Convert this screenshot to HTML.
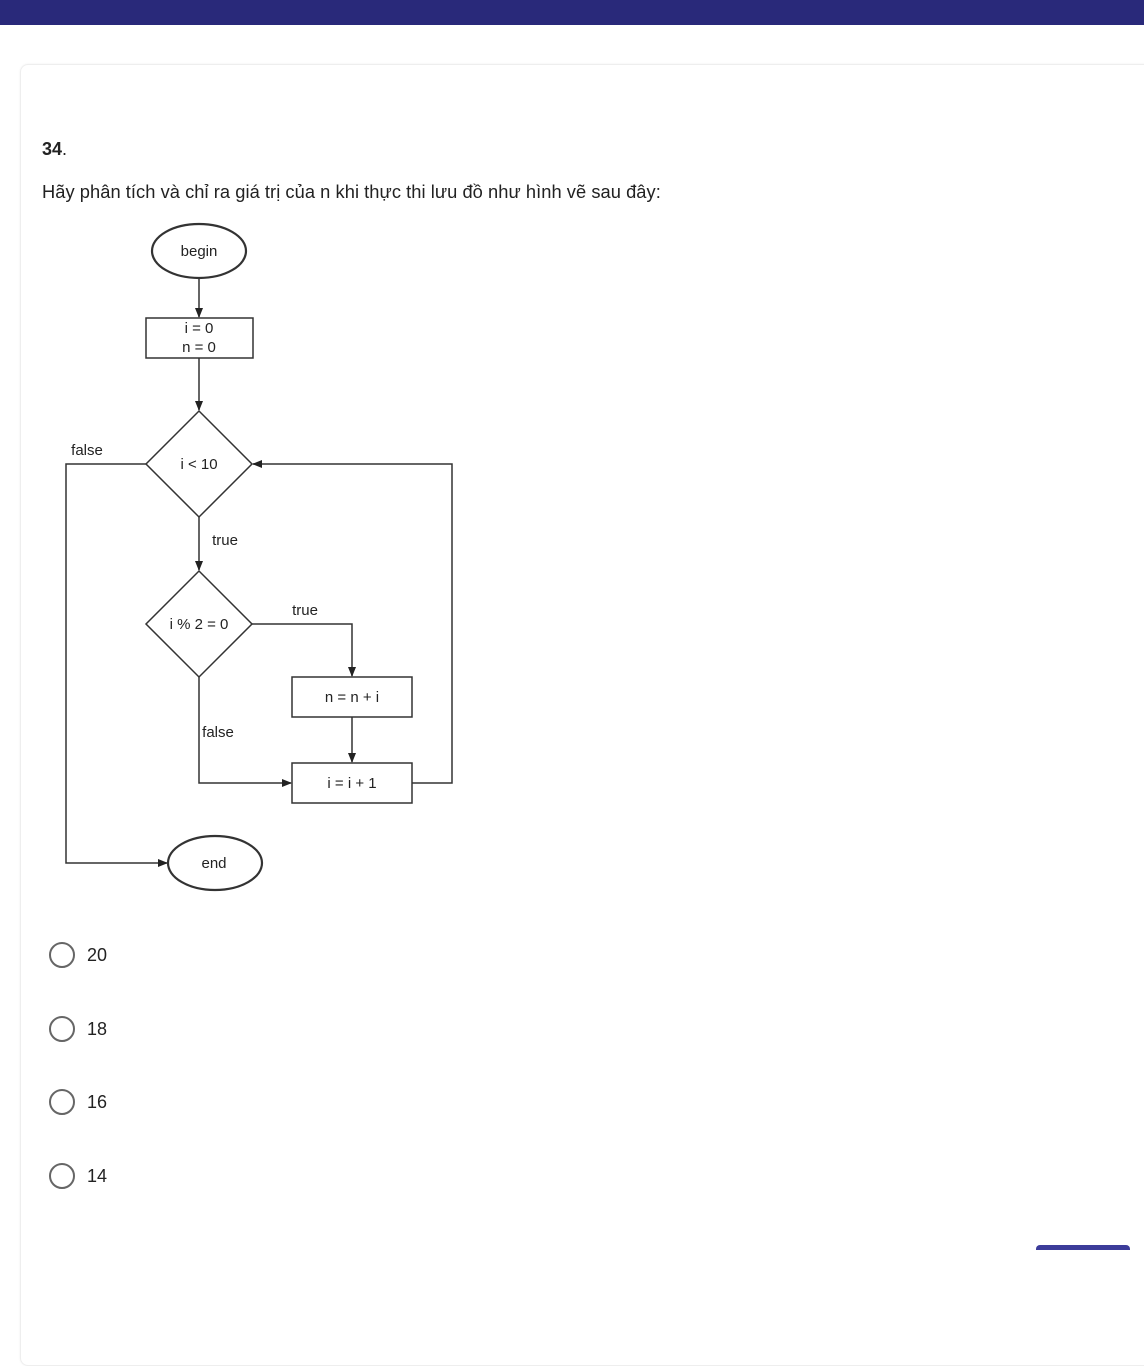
<!DOCTYPE html>
<html><head><meta charset="utf-8"><style>
body{margin:0;width:1144px;height:1248px;background:#fff;font-family:"Liberation Sans",sans-serif;overflow:hidden;position:relative}
.bar{position:absolute;left:0;top:0;width:1144px;height:25px;background:#29297a}
.card{position:absolute;left:20px;top:64px;width:1140px;height:1300px;border:1px solid #eee;border-radius:8px;box-shadow:0 0 2px rgba(0,0,0,.06)}
.num{position:absolute;left:42px;top:139px;font-size:18px;font-weight:bold;color:#222}
.q{position:absolute;left:42px;top:181px;font-size:18.3px;letter-spacing:0.05px;color:#222}
.opt{position:absolute;left:49px;border:2px solid #666;border-radius:50%;box-sizing:border-box;width:26px;height:26px}
.ot{position:absolute;left:87px;font-size:18px;color:#222}
svg{position:absolute;left:0;top:0}
</style></head><body>
<div class="bar"></div>
<div class="card"></div>
<div class="num">34<span style="font-weight:normal">.</span></div>
<div class="q">Hãy phân tích và chỉ ra giá trị của n khi thực thi lưu đồ như hình vẽ sau đây:</div>
<svg width="1144" height="1248" font-family="Liberation Sans, sans-serif" font-size="15" fill="none" stroke="#333" stroke-width="1.5">
<defs><marker id="a" markerWidth="10" markerHeight="10" refX="9" refY="5" orient="auto" markerUnits="userSpaceOnUse"><path d="M0,1 L10,5 L0,9z" fill="#222" stroke="none"/></marker></defs>
<ellipse cx="199" cy="251" rx="47" ry="27" stroke-width="2.2"/>
<line x1="199" y1="278" x2="199" y2="317" marker-end="url(#a)"/>
<rect x="146" y="318" width="107" height="40"/>
<line x1="199" y1="358" x2="199" y2="410" marker-end="url(#a)"/>
<polygon points="199,411 252,464 199,517 146,464"/>
<line x1="199" y1="517" x2="199" y2="570" marker-end="url(#a)"/>
<polygon points="199,571 252,624 199,677 146,624"/>
<polyline points="252,624 352,624 352,676" marker-end="url(#a)"/>
<rect x="292" y="677" width="120" height="40"/>
<line x1="352" y1="717" x2="352" y2="762" marker-end="url(#a)"/>
<rect x="292" y="763" width="120" height="40"/>
<polyline points="199,677 199,783 291,783" marker-end="url(#a)"/>
<polyline points="412,783 452,783 452,464 253,464" marker-end="url(#a)"/>
<polyline points="146,464 66,464 66,863 167,863" marker-end="url(#a)"/>
<ellipse cx="215" cy="863" rx="47" ry="27" stroke-width="2.2"/>
<g fill="#222" stroke="none" text-anchor="middle">
<text x="199" y="256">begin</text>
<text x="199" y="333">i = 0</text>
<text x="199" y="352">n = 0</text>
<text x="199" y="469">i &lt; 10</text>
<text x="199" y="629">i % 2 = 0</text>
<text x="352" y="702">n = n + i</text>
<text x="352" y="788">i = i + 1</text>
<text x="214" y="868">end</text>
<text x="87" y="455">false</text>
<text x="225" y="545">true</text>
<text x="305" y="615">true</text>
<text x="218" y="737">false</text>
</g>
</svg>
<div class="opt" style="top:942px"></div><div class="ot" style="top:945px">20</div>
<div class="opt" style="top:1016px"></div><div class="ot" style="top:1019px">18</div>
<div class="opt" style="top:1089px"></div><div class="ot" style="top:1092px">16</div>
<div class="opt" style="top:1163px"></div><div class="ot" style="top:1166px">14</div>
<div style="position:absolute;left:1036px;top:1245px;width:94px;height:5px;background:#3c3c9a;border-radius:4px 4px 0 0"></div>
</body></html>
